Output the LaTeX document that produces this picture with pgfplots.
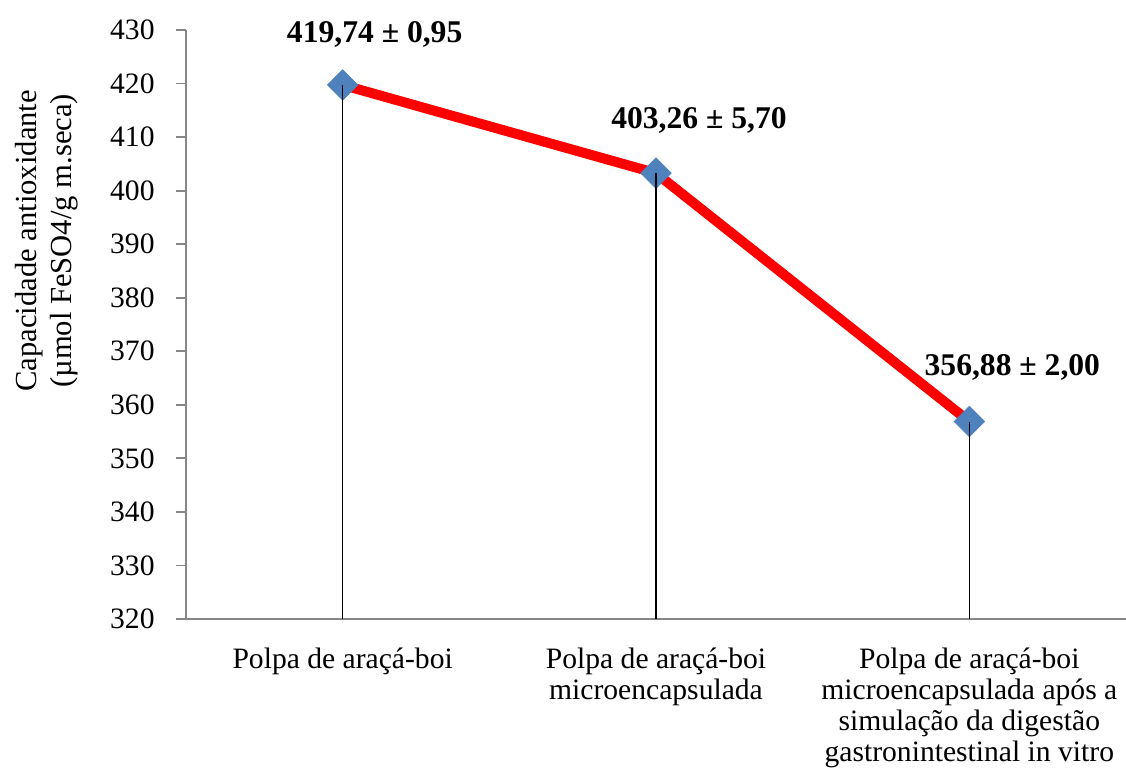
\documentclass[border=0pt]{standalone}
\usepackage{pgfplots}
\pgfplotsset{compat=1.18}
\usepackage{fontspec}
\setmainfont{Liberation Serif}
\definecolor{axisgray}{HTML}{868686}
\definecolor{mblue}{HTML}{4F81BD}
\begin{document}
\begin{tikzpicture}
\path[use as bounding box] (-93pt,-75pt) rectangle (470pt,309.5pt);
\begin{axis}[
  at={(0,0)}, anchor=south west,
  scale only axis,
  width=470pt, height=294.5pt,
  xmin=-0.5, xmax=2.5,
  ymin=320, ymax=430,
  ytick={320,330,...,430},
  xtick={0,1,2},
  xticklabels={{Polpa de araçá-boi},{Polpa de araçá-boi\\microencapsulada},{Polpa de araçá-boi\\microencapsulada após a\\simulação da digestão\\gastronintestinal in vitro}},
  axis lines=left,
  axis line style={draw=axisgray, line width=0.9pt, -},
  ytick style={draw=axisgray, line width=0.9pt},
  xtick style={draw=none},
  tick align=outside,
  major tick length=5pt,
  /pgf/number format/assume math mode=true,
  tick label style={font=\fontsize{14.8}{15.5}\selectfont},
  yticklabel style={anchor=east, inner sep=0pt, xshift=-10.5pt},
  xticklabel style={align=center, anchor=north, yshift=-6pt},
  ylabel={Capacidade antioxidante\\(µmol FeSO4/g m.seca)},
  ylabel style={at={(rel axis cs:-0.148,0.642)}, anchor=center, align=center, font=\fontsize{15.3}{17.5}\selectfont},
  clip mode=individual,
]
\addplot[red, line width=5pt, mark=square*, mark size=5.4pt,
  mark options={rotate=45, fill=mblue, draw=mblue, line width=0.3pt}]
  coordinates {(0,419.74) (1,403.26) (2,356.88)};
\addplot[ycomb, black, line width=0.75pt, mark=none]
  coordinates {(0,419.74) (1,403.26) (2,356.88)};
\node[anchor=base, font=\fontsize{15.8}{16.5}\selectfont\bfseries, xshift=16pt, yshift=21pt] at (axis cs:0,419.74) {419,74 ± 0,95};
\node[anchor=base, font=\fontsize{15.8}{16.5}\selectfont\bfseries, xshift=21.5pt, yshift=22.5pt] at (axis cs:1,403.26) {403,26 ± 5,70};
\node[anchor=base, font=\fontsize{15.8}{16.5}\selectfont\bfseries, xshift=21.5pt, yshift=23.2pt] at (axis cs:2,356.88) {356,88 ± 2,00};
\end{axis}
\end{tikzpicture}
\end{document}
